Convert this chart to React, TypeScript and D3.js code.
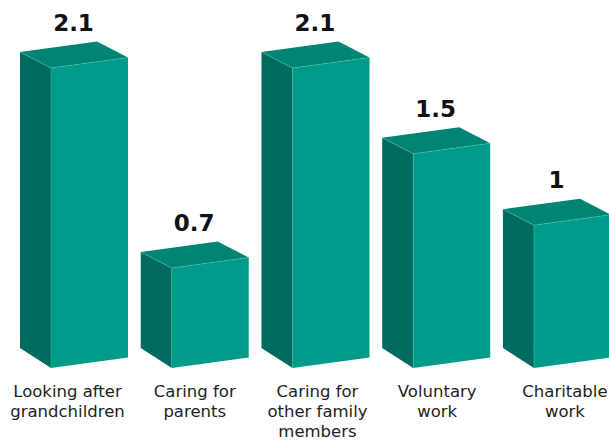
import React from "react";
import * as d3 from "d3";

const categories = ["Looking after grandchildren", "Caring for parents", "Caring for other family members", "Voluntary work", "Charitable work"];
const labelLines = [["Looking after", "grandchildren"], ["Caring for", "parents"], ["Caring for", "other family", "members"], ["Voluntary", "work"], ["Charitable", "work"]];
const values = [2.1, 0.7, 2.1, 1.5, 1];
const valueLabels = ["2.1", "0.7", "2.1", "1.5", "1"];

const W = 609, H = 440;
const SIDE = 31, FRONT = 77, SLANT = -10.5, DEPTH_TOP = -16, DEPTH_BOT = -20;
const FRONT_C = "#009c8b", SIDE_C = "#006b5f", TOP_C = "#008474";
const LABEL_DX = [-6.5, 0, 2, 1, 8];

export default function App() {
  const x = d3.scaleBand<string>().domain(categories).range([20, 611]).paddingInner(0.105).paddingOuter(0);
  const y = d3.scaleLinear().domain([0, 2.1]).range([368, 68]);
  const pt = (p: [number, number][]) => p.map(q => q.join(",")).join(" ");
  return (
    <svg width={W} height={H} style={{ position: "absolute", left: 0, top: 0 }}>
      {categories.map((c, i) => {
        const sx = x(c)!;
        const fx = sx + SIDE;
        const fr = fx + FRONT;
        const yb = y(0), yt = y(values[i]);
        const fTL: [number, number] = [fx, yt], fTR: [number, number] = [fr, yt + SLANT];
        const fBL: [number, number] = [fx, yb], fBR: [number, number] = [fr, yb + SLANT];
        const bTL: [number, number] = [fx - SIDE, yt + DEPTH_TOP], bTR: [number, number] = [fr - SIDE, yt + SLANT + DEPTH_TOP];
        const bBL: [number, number] = [fx - SIDE, yb + DEPTH_BOT];
        const cx = (sx + fr) / 2 + LABEL_DX[i];
        return (
          <g key={c}>
            <polygon points={pt([bTL, fTL, fBL, bBL])} fill={SIDE_C} />
            <polygon points={pt([bTL, bTR, fTR, fTL])} fill={TOP_C} />
            <polygon points={pt([fTL, fTR, fBR, fBL])} fill={FRONT_C} />
            <polyline points={pt([bTL, fTL, fTR])} fill="none" stroke="#5cc2b4" strokeWidth={0.6} opacity={0.7} />
            <line x1={fx} y1={yt} x2={fx} y2={yb} stroke="#5cc2b4" strokeWidth={0.6} opacity={0.6} />
            <text x={(sx + fr) / 2 - 0.5} y={yt - 37} textAnchor="middle" fontSize={23} fontWeight={700} fill="#111" fontFamily="'DejaVu Sans', sans-serif">{valueLabels[i]}</text>
            {labelLines[i].map((l, j) => (
              <text key={j} x={cx} y={397 + j * 20} textAnchor="middle" fontSize={16.5} fill="#222" fontFamily="'DejaVu Sans', sans-serif">{l}</text>
            ))}
          </g>
        );
      })}
    </svg>
  );
}
